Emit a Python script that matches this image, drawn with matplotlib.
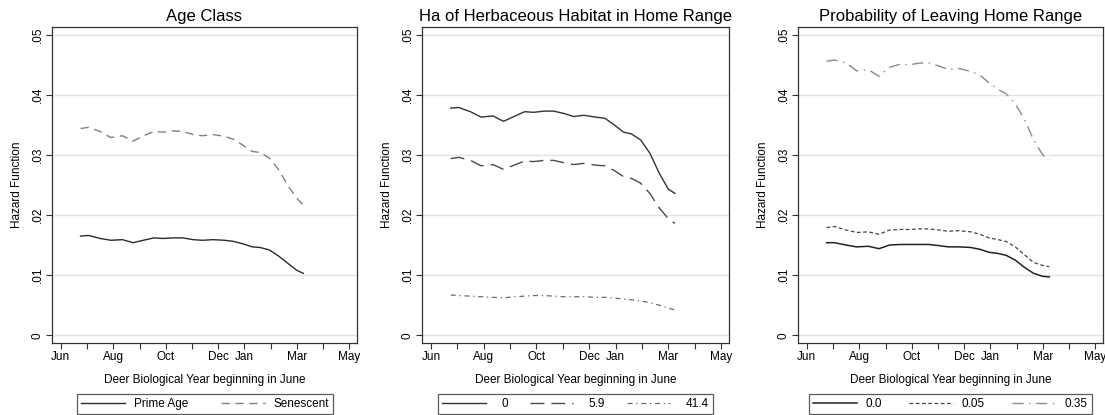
import matplotlib.pyplot as plt

plt.rcParams['font.family'] = ['Liberation Sans', 'DejaVu Sans']

# months since June (Jun = 0)
months = [0.75, 1.05, 1.5, 1.9, 2.35, 2.75, 3.15, 3.55, 3.9, 4.3, 4.65, 5.05,
          5.4, 5.8, 6.25, 6.6, 6.95, 7.3, 7.6, 7.95, 8.3, 8.65, 9.0, 9.25]

prime_age = [0.0165, 0.0166, 0.0161, 0.0158, 0.0159, 0.0154, 0.0158, 0.0162, 0.0161, 0.0162, 0.0162, 0.0159,
             0.0158, 0.0159, 0.0158, 0.0156, 0.0152, 0.0147, 0.0146, 0.0142, 0.0132, 0.0120, 0.0108, 0.0103]
senescent = [0.0344, 0.0346, 0.0339, 0.0329, 0.0332, 0.0323, 0.0332, 0.0339, 0.0338, 0.0340, 0.0339, 0.0334,
             0.0332, 0.0334, 0.0331, 0.0326, 0.0316, 0.0306, 0.0304, 0.0295, 0.0276, 0.0250, 0.0228, 0.0217]

herb_0 = [0.0378, 0.0379, 0.0372, 0.0363, 0.0365, 0.0356, 0.0364, 0.0372, 0.0371, 0.0373, 0.0373, 0.0369,
          0.0364, 0.0366, 0.0363, 0.0361, 0.0350, 0.0338, 0.0335, 0.0325, 0.0303, 0.0270, 0.0243, 0.0236]
herb_59 = [0.0294, 0.0296, 0.0291, 0.0282, 0.0284, 0.0276, 0.0283, 0.0290, 0.0289, 0.0291, 0.0291, 0.0287,
           0.0284, 0.0286, 0.0283, 0.0282, 0.0274, 0.0264, 0.0261, 0.0253, 0.0236, 0.0212, 0.0194, 0.0186]
herb_414 = [0.0067, 0.0066, 0.0065, 0.0064, 0.0063, 0.0062, 0.0064, 0.0065, 0.0066, 0.0066, 0.0065, 0.0064,
            0.0064, 0.0064, 0.0063, 0.0063, 0.0062, 0.0060, 0.0059, 0.0057, 0.0054, 0.0050, 0.0045, 0.0042]

leave_00 = [0.0154, 0.0154, 0.0150, 0.0147, 0.0148, 0.0144, 0.0150, 0.0151, 0.0151, 0.0151, 0.0151, 0.0149,
            0.0147, 0.0147, 0.0146, 0.0143, 0.0138, 0.0136, 0.0133, 0.0125, 0.0113, 0.0103, 0.0098, 0.0097]
leave_005 = [0.0179, 0.0181, 0.0175, 0.0171, 0.0172, 0.0168, 0.0175, 0.0176, 0.0176, 0.0177, 0.0177, 0.0175,
             0.0173, 0.0174, 0.0172, 0.0168, 0.0162, 0.0159, 0.0156, 0.0147, 0.0134, 0.0121, 0.0116, 0.0114]
leave_035 = [0.0456, 0.0458, 0.0453, 0.0440, 0.0442, 0.0431, 0.0446, 0.0451, 0.0450, 0.0453, 0.0453, 0.0448,
             0.0442, 0.0444, 0.0439, 0.0433, 0.0420, 0.0409, 0.0402, 0.0385, 0.0360, 0.0325, 0.0300, 0.0292]

month_ticks = list(range(12))
month_labels = ["Jun", "", "Aug", "", "Oct", "", "Dec", "Jan", "", "Mar", "", "May"]
y_ticks = [0, 0.01, 0.02, 0.03, 0.04, 0.05]
y_labels = ["0", ".01", ".02", ".03", ".04", ".05"]

W, H = 1105, 415
fig = plt.figure(figsize=(W / 100, H / 100), dpi=100)

panels = [
    ("Age Class", 52, 357, 77, 333, 0.75,
     [(prime_age, "Prime Age", "#2b2b2b", "-", 1.0),
      (senescent, "Senescent", "#808080", (0, (6, 4)), 1.0)]),
    ("Ha of Herbaceous Habitat in Home Range", 422, 729, 438, 713, 1.3,
     [(herb_0, "0", "#333333", "-", 1.0),
      (herb_59, "5.9", "#4a4a4a", (0, (10, 5)), 1.0),
      (herb_414, "41.4", "#6a6a6a", (0, (4, 3, 1, 3)), 0.9)]),
    ("Probability of Leaving Home Range", 798, 1103, 809, 1092, 0.75,
     [(leave_00, "0.0", "#222222", "-", 1.1),
      (leave_005, "0.05", "#444444", (0, (3, 2)), 0.9),
      (leave_035, "0.35", "#8a8a8a", (0, (8, 4, 1, 4)), 1.0)]),
]

top, bottom = 27, 343
for title, x0, x1, lx0, lx1, tpad, series in panels:
    ax = fig.add_axes([x0 / W, (H - bottom) / H, (x1 - x0) / W, (bottom - top) / H])
    for vals, lab, col, ls, lw in series:
        ax.plot(months, vals, color=col, linestyle=ls, linewidth=lw, label=lab)
    ax.set_xlim(-0.34, 11.3)
    ax.set_ylim(-0.0013, 0.0513)
    ax.set_xticks(month_ticks)
    ax.set_xticklabels(month_labels, fontsize=8.5)
    ax.set_yticks(y_ticks)
    ax.set_yticklabels(y_labels, fontsize=8.5, rotation=90, va='center')
    ax.tick_params(length=4, width=0.8, color="#333333", pad=2)
    ax.grid(axis='y', color="#e3e3e3", linewidth=1.0)
    ax.set_axisbelow(True)
    for s in ax.spines.values():
        s.set_color("#333333")
        s.set_linewidth(0.9)
    ax.set_title(title, fontsize=12, pad=4)
    ax.set_xlabel("Deer Biological Year beginning in June", fontsize=8.5, labelpad=8)
    ax.set_ylabel("Hazard Function", fontsize=8.5, labelpad=6)
    leg = ax.legend(loc='lower left', mode='expand', ncol=len(series),
                    bbox_to_anchor=(lx0 / W, (H - 414) / H, (lx1 - lx0) / W, 22 / H),
                    bbox_transform=fig.transFigure, fontsize=8.5, frameon=True,
                    fancybox=False, edgecolor="#333333", handlelength=3.7,
                    handletextpad=tpad, borderaxespad=0, borderpad=0.35,
                    columnspacing=1.5)
    leg.get_frame().set_linewidth(0.9)

plt.savefig("out.png", dpi=100)
